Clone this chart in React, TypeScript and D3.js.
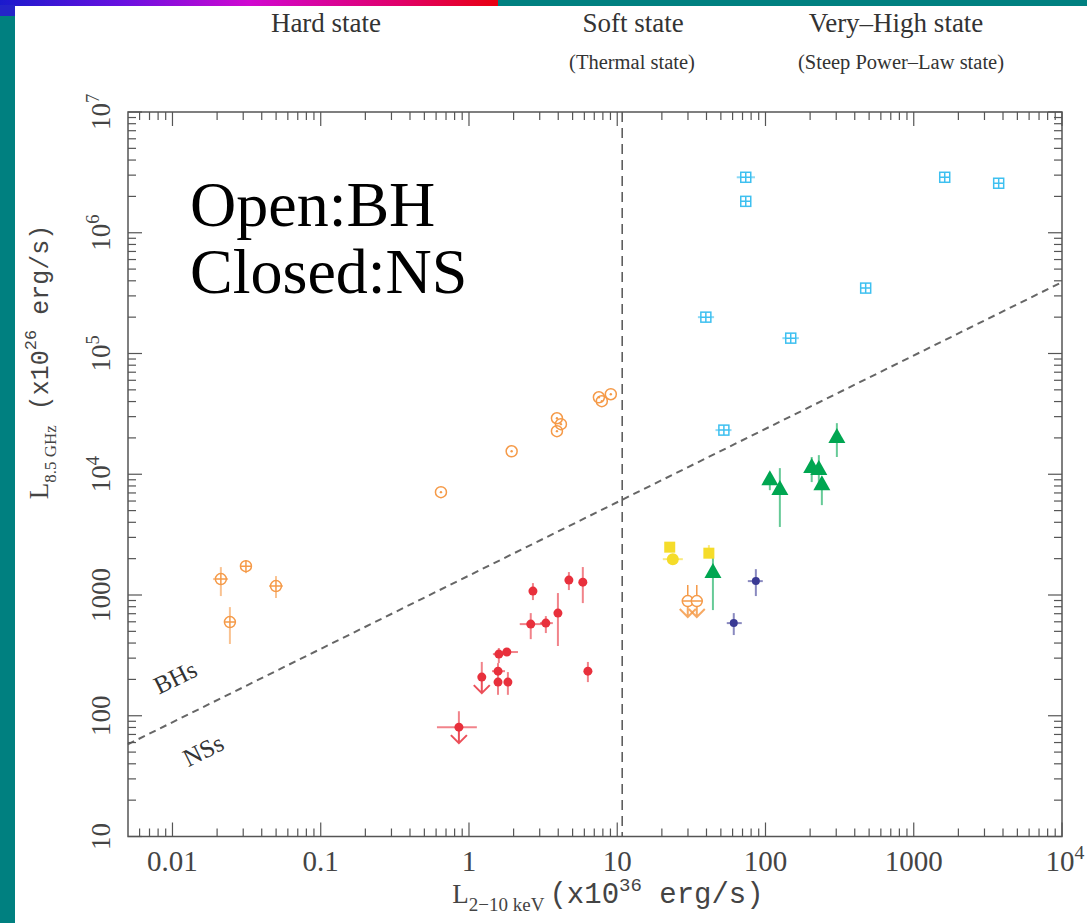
import React from 'react';
import * as d3 from 'd3';

type Pt = { x: number; y: number; xe?: [number, number]; ye?: [number, number]; ul?: boolean };

// BH hard state, low luminosity (open circles with cross)
const bhHardLow: Pt[] = [
  { x: 0.0212, y: 1355, xe: [0.0188, 0.0237], ye: [980, 1703] },
  { x: 0.0313, y: 1733, ye: [1517, 1945] },
  { x: 0.0499, y: 1186, xe: [0.0448, 0.0556], ye: [944, 1435] },
  { x: 0.0244, y: 597, xe: [0.0232, 0.0258], ye: [393, 794] },
];
// BH hard state (open circles with dot)
const bhHard: Pt[] = [
  { x: 0.647, y: 7110 },
  { x: 1.94, y: 15500 },
  { x: 3.92, y: 29100 },
  { x: 4.17, y: 26000 },
  { x: 3.92, y: 22750 },
  { x: 7.52, y: 43400 },
  { x: 7.87, y: 40300 },
  { x: 9.05, y: 46000 },
];
// BH soft state upper limits
const bhSoftLimits: Pt[] = [
  { x: 29.9, y: 891, ul: true },
  { x: 34.4, y: 891, ul: true },
];
// BH very-high state
const bhVhs: Pt[] = [
  { x: 73.6, y: 2.88e6, xe: [64, 85] },
  { x: 73.6, y: 1.82e6 },
  { x: 1618, y: 2.88e6, xe: [1500, 1750] },
  { x: 3740, y: 2.57e6 },
  { x: 474, y: 3.48e5 },
  { x: 39.6, y: 2.0e5, xe: [35, 45] },
  { x: 148, y: 1.34e5, xe: [130, 168] },
  { x: 52.4, y: 23200, xe: [46, 59] },
];
// NS hard state (filled red)
const nsHard: Pt[] = [
  { x: 2.7, y: 1077, ye: [908, 1255] },
  { x: 4.72, y: 1328, ye: [1099, 1549] },
  { x: 5.86, y: 1278, ye: [857, 1704] },
  { x: 3.98, y: 708, ye: [378, 1038] },
  { x: 2.61, y: 574, xe: [2.2, 3.15], ye: [431, 708] },
  { x: 3.3, y: 585, xe: [3.01, 3.68], ye: [484, 669] },
  { x: 1.8, y: 337, xe: [1.54, 2.14] },
  { x: 1.59, y: 324, xe: [1.45, 1.8], ye: [273, 364] },
  { x: 1.57, y: 234, xe: [1.43, 1.75] },
  { x: 1.57, y: 190, ye: [149, 273] },
  { x: 1.83, y: 190, ye: [149, 230] },
  { x: 6.34, y: 234, ye: [190, 279] },
  { x: 1.22, y: 209, ye: [209, 279], ul: true },
  { x: 0.855, y: 80.5, xe: [0.608, 1.13], ye: [80.5, 109], ul: true },
];
// NS (Atoll/Z) high states, green triangles
const nsHigh: Pt[] = [
  { x: 303, y: 20300, ye: [13900, 26500] },
  { x: 205, y: 11460, ye: [8610, 13900] },
  { x: 229, y: 11030, ye: [7820, 14400] },
  { x: 240, y: 8280, ye: [5550, 9290] },
  { x: 107, y: 9100, ye: [7380, 10400] },
  { x: 125, y: 7540, ye: [3660, 11240] },
  { x: 44.2, y: 1549, ye: [750, 2220] },
];
// NS yellow squares / circle
const nsYellowSq: Pt[] = [
  { x: 22.6, y: 2490 },
  { x: 41.5, y: 2220, ye: [2020, 2590] },
];
const nsYellowCirc: Pt[] = [{ x: 23.7, y: 1980, xe: [20.3, 27.7] }];
// NS navy crosses
const nsNavy: Pt[] = [
  { x: 86.1, y: 1303, xe: [76, 95.9], ye: [980, 1637] },
  { x: 61.1, y: 585, xe: [54.8, 69.2], ye: [466, 708] },
];
// dividing line between BHs and NSs
const dividerLine: [number, number][] = [[0.005, 58], [1e4, 3.9e5]];
const softBoundary = 10.8;

const xTickLabels = ['0.01', '0.1', '1', '10', '100', '1000', '10^4'];
const yTickLabels = ['10', '100', '1000', '10^4', '10^5', '10^6', '10^7'];
const stateLabels = ['Hard state', 'Soft state', 'Very\u2013High state'];
const stateSubLabels = ['(Thermal state)', '(Steep Power\u2013Law state)'];

const ORANGE = '#f59a48';
const RED = '#e8303c';
const CYAN = '#3ec0f0';
const GREEN = '#00a651';
const YELLOW = '#f5dc2a';
const NAVY = '#3a3a94';
const AXIS = '#555';

const W = 1087;
const H = 923;

const x = d3.scaleLog().domain([Math.pow(10, -2.3), 1e4]).range([128, 1062]);
const y = d3.scaleLog().domain([10, 1e7]).range([836.5, 112]);

const tickVals = (lo: number, hi: number) =>
  d3.range(Math.floor(Math.log10(lo)), Math.ceil(Math.log10(hi)) + 1)
    .flatMap(d => d3.range(1, 10).map(m => ({ v: m * Math.pow(10, d), major: m === 1 })))
    .filter(t => t.v >= lo * 0.999 && t.v <= hi * 1.001);

const Label = ({ s, sup }: { s: string; sup: number }) => {
  const [base, exp] = s.split('^');
  return (
    <>
      {base}
      {exp && <tspan dy={-sup} fontSize="0.68em">{exp}</tspan>}
    </>
  );
};

const ErrBars = ({ d, color }: { d: Pt[]; color: string }) => (
  <g stroke={color} strokeWidth={2} strokeOpacity={0.6}>
    {d.map((p, i) => (
      <g key={i}>
        {p.xe && <line x1={x(p.xe[0])} x2={x(p.xe[1])} y1={y(p.y)} y2={y(p.y)} />}
        {p.ye && <line x1={x(p.x)} x2={x(p.x)} y1={y(p.ye[0])} y2={y(p.ye[1])} />}
        {p.ul && (
          <path
            d={`M${x(p.x)},${y(p.y)}V${y(p.y) + 16}M${x(p.x) - 8},${y(p.y) + 8}L${x(p.x)},${y(p.y) + 16}L${x(p.x) + 8},${y(p.y) + 8}`}
            fill="none"
            strokeOpacity={0.85}
          />
        )}
      </g>
    ))}
  </g>
);

export default function App() {
  const xt = tickVals(x.domain()[0], x.domain()[1]);
  const yt = tickVals(y.domain()[0], y.domain()[1]);
  const [x0, x1] = x.range();
  const [y0, y1] = y.range();
  const divider = d3.line<[number, number]>().x(d => x(d[0])).y(d => y(d[1]));
  const bhAngle = (Math.atan2(y(dividerLine[1][1]) - y(dividerLine[0][1]), x(dividerLine[1][0]) - x(dividerLine[0][0])) * 180) / Math.PI;
  const serif = 'Liberation Serif, Times New Roman, serif';
  const mono = 'Liberation Mono, Courier New, monospace';

  return (
    <svg width={W} height={H} style={{ position: 'absolute', left: 0, top: 0, background: '#fff' }}>
      <defs>
        <linearGradient id="topbar" x1="0" x2="1" y1="0" y2="0">
          <stop offset="0%" stopColor="#1a1acc" />
          <stop offset="25%" stopColor="#6a10e0" />
          <stop offset="50%" stopColor="#d008d0" />
          <stop offset="80%" stopColor="#e0006a" />
          <stop offset="100%" stopColor="#e80010" />
        </linearGradient>
      </defs>
      {/* slide decoration */}
      <rect x={0} y={0} width={498} height={6} fill="url(#topbar)" />
      <rect x={498} y={0} width={W - 498} height={6} fill="#008080" />
      <rect x={0} y={5} width={15} height={11} fill="#2424c8" />
      <rect x={0} y={16} width={15} height={H - 16} fill="#008080" />

      {/* state headers */}
      <g fontFamily={serif} fill="#333" textAnchor="middle">
        <text x={326} y={32} fontSize={27}>{stateLabels[0]}</text>
        <text x={633} y={32} fontSize={27}>{stateLabels[1]}</text>
        <text x={896} y={32} fontSize={27}>{stateLabels[2]}</text>
        <text x={632} y={69} fontSize={20.5}>{stateSubLabels[0]}</text>
        <text x={901} y={69} fontSize={20.5}>{stateSubLabels[1]}</text>
      </g>

      {/* dashed guides */}
      <line x1={x(softBoundary)} x2={x(softBoundary)} y1={y1} y2={y0} stroke="#555" strokeWidth={1.5} strokeDasharray="10,6" />
      <path d={divider(dividerLine) ?? ''} fill="none" stroke="#666" strokeWidth={2} strokeDasharray="7,5" />
      <g fontFamily={serif} fill="#333" fontSize={25}>
        <text transform={`translate(179,685) rotate(${bhAngle})`} textAnchor="middle">BHs</text>
        <text transform={`translate(207,758) rotate(${bhAngle})`} textAnchor="middle">NSs</text>
      </g>

      {/* frame and ticks */}
      <rect x={x0} y={y1} width={x1 - x0} height={y0 - y1} fill="none" stroke={AXIS} strokeWidth={1.5} />
      <g stroke={AXIS} strokeWidth={1.2}>
        {xt.map((t, i) => {
          const len = t.major ? 14 : 8;
          return (
            <g key={i}>
              <line x1={x(t.v)} x2={x(t.v)} y1={y0} y2={y0 - len} />
              <line x1={x(t.v)} x2={x(t.v)} y1={y1} y2={y1 + len} />
            </g>
          );
        })}
        {yt.map((t, i) => {
          const len = t.major ? 14 : 8;
          return (
            <g key={i}>
              <line x1={x0} x2={x0 + len} y1={y(t.v)} y2={y(t.v)} />
              <line x1={x1} x2={x1 - len} y1={y(t.v)} y2={y(t.v)} />
            </g>
          );
        })}
      </g>
      <g fontFamily={serif} fill="#444" fontSize={29} textAnchor="middle">
        {xt.filter(t => t.major).map((t, i) => (
          <text key={i} x={x(t.v) + (i === xTickLabels.length - 1 ? 3 : 0)} y={871}>
            <Label s={xTickLabels[i]} sup={12} />
          </text>
        ))}
      </g>
      <g fontFamily={serif} fill="#444" fontSize={27} textAnchor="middle">
        {yt.filter(t => t.major).map((t, i) => (
          <text key={i} transform={`translate(110,${y(t.v)}) rotate(-90)`}>
            <Label s={yTickLabels[i]} sup={11} />
          </text>
        ))}
      </g>

      {/* axis titles */}
      <text x={608} y={903} textAnchor="middle" fill="#444">
        <tspan fontFamily={serif} fontSize={27}>L</tspan>
        <tspan fontFamily={serif} fontSize={19} dy={8}>2{'\u2212'}10 keV</tspan>
        <tspan fontFamily={mono} fontSize={29} dy={-8} dx={5}>(x10</tspan>
        <tspan fontFamily={mono} fontSize={19} dy={-12}>36</tspan>
        <tspan fontFamily={mono} fontSize={29} dy={12}> erg/s)</tspan>
      </text>
      <text transform="translate(48,362) rotate(-90)" textAnchor="middle" fill="#444">
        <tspan fontFamily={serif} fontSize={27}>L</tspan>
        <tspan fontFamily={serif} fontSize={17} dy={8}>8.5 GHz</tspan>
        <tspan fontFamily={mono} fontSize={25} dy={-8}>  (x10</tspan>
        <tspan fontFamily={mono} fontSize={17} dy={-12}>26</tspan>
        <tspan fontFamily={mono} fontSize={25} dy={12}> erg/s)</tspan>
      </text>

      {/* BH vs NS note */}
      <g fontFamily={serif} fill="#000" fontSize={64}>
        <text x={190} y={226}>Open:BH</text>
        <text x={190} y={293}>Closed:NS</text>
      </g>

      {/* error bars */}
      <ErrBars d={bhHardLow} color={ORANGE} />
      <ErrBars d={bhSoftLimits} color={ORANGE} />
      <ErrBars d={bhVhs} color={CYAN} />
      <ErrBars d={nsHard} color={RED} />
      <ErrBars d={nsHigh} color={GREEN} />
      <ErrBars d={nsYellowSq} color={YELLOW} />
      <ErrBars d={nsYellowCirc} color={YELLOW} />
      <ErrBars d={nsNavy} color={NAVY} />

      {/* markers */}
      <g fill="none" stroke={ORANGE} strokeWidth={1.5}>
        {bhHardLow.map((p, i) => (
          <g key={i} transform={`translate(${x(p.x)},${y(p.y)})`}>
            <circle r={5.5} fill="#fff" />
            <path d="M-5.5,0H5.5M0,-5.5V5.5" />
          </g>
        ))}
        {bhHard.map((p, i) => (
          <g key={i} transform={`translate(${x(p.x)},${y(p.y)})`}>
            <circle r={5.5} />
            <circle r={1.2} fill={ORANGE} stroke="none" />
          </g>
        ))}
        {bhSoftLimits.map((p, i) => (
          <g key={i} transform={`translate(${x(p.x)},${y(p.y)})`}>
            <circle r={5.5} fill="#fff" />
            <path d="M-5.5,0H5.5M0,-16V-5.5" />
          </g>
        ))}
      </g>
      <g fill="#fff" stroke={CYAN} strokeWidth={1.5}>
        {bhVhs.map((p, i) => (
          <g key={i} transform={`translate(${x(p.x)},${y(p.y)})`}>
            <rect x={-5} y={-5} width={10} height={10} />
            <path d="M-5,0H5M0,-5V5" />
          </g>
        ))}
      </g>
      <g fill={RED}>
        {nsHard.map((p, i) => (
          <circle key={i} cx={x(p.x)} cy={y(p.y)} r={4.5} />
        ))}
      </g>
      <g fill={GREEN}>
        {nsHigh.map((p, i) => (
          <path key={i} transform={`translate(${x(p.x)},${y(p.y)})`} d="M0,-9L8.5,6H-8.5Z" />
        ))}
      </g>
      <g fill={YELLOW}>
        {nsYellowSq.map((p, i) => (
          <rect key={i} x={x(p.x) - 5.5} y={y(p.y) - 5.5} width={11} height={11} />
        ))}
        {nsYellowCirc.map((p, i) => (
          <circle key={i} cx={x(p.x)} cy={y(p.y)} r={6} />
        ))}
      </g>
      <g fill={NAVY}>
        {nsNavy.map((p, i) => (
          <circle key={i} cx={x(p.x)} cy={y(p.y)} r={4} />
        ))}
      </g>
    </svg>
  );
}
